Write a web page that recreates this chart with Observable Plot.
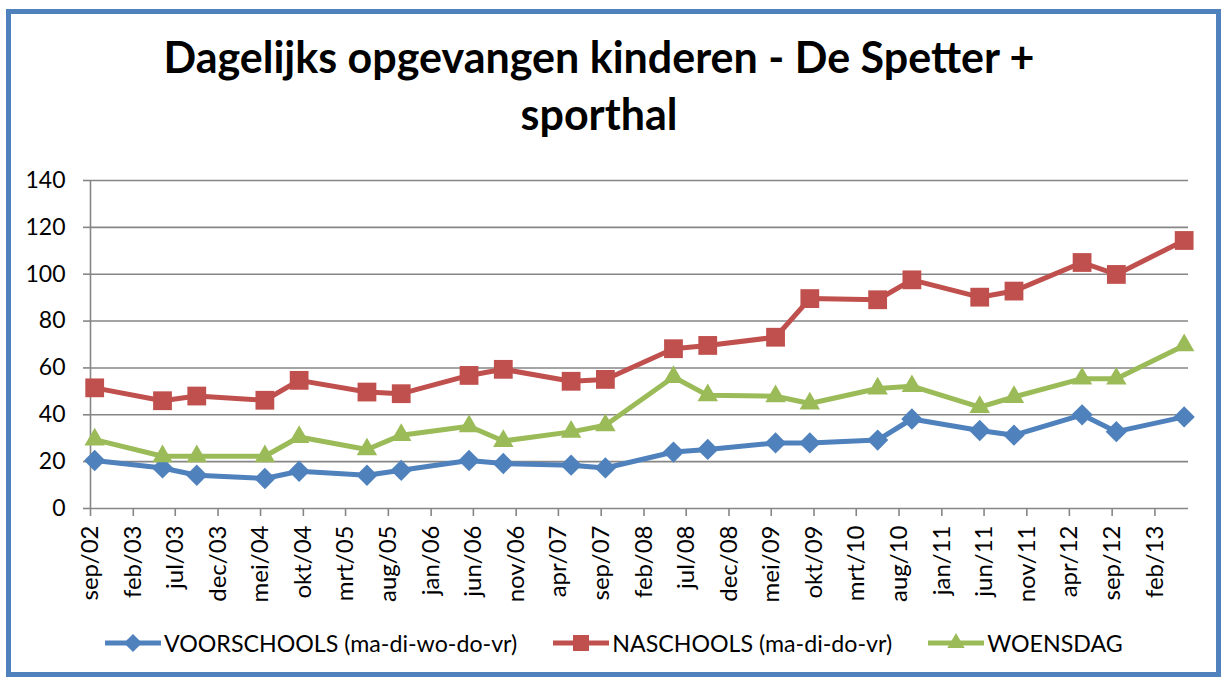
<!DOCTYPE html>
<html>
<head>
<meta charset="utf-8">
<script src="https://cdn.jsdelivr.net/npm/d3@7"></script>
<script src="https://cdn.jsdelivr.net/npm/@observablehq/plot@0.6"></script>
<style>
  html, body { margin: 0; padding: 0; background: #fff; }
  #wrap { position: relative; width: 1224px; height: 680px; overflow: hidden; background: #fff; font-family: Lato, "Open Sans", sans-serif; color: #000; }
  #frame { position: absolute; left: 6px; top: 9px; width: 1215px; height: 668px; box-sizing: border-box; border: 5px solid #4F81BD; pointer-events: none; }
  #title { position: absolute; left: 0; width: 1198px; top: 28px; text-align: center; font-weight: bold; font-size: 43px; line-height: 57px; }
  #chart { position: absolute; left: 0; top: 150px; }
  #legend { position: absolute; left: 105px; top: 629px; display: flex; align-items: center; gap: 36px; font-size: 23.2px; white-space: nowrap; }
  .item { display: flex; align-items: center; gap: 3px; }
  .item svg { display: block; }
</style>
</head>
<body>
<div id="wrap">
  <div id="title">Dagelijks opgevangen kinderen - De Spetter +<br>sporthal</div>
  <div id="chart"></div>
  <div id="legend"></div>
  <div id="frame"></div>
</div>
<script>
// ---- data ----
const months = ["2002-09","2003-05","2003-09","2004-05","2004-09","2005-05","2005-09","2006-05","2006-09","2007-05","2007-09",
                "2008-05","2008-09","2009-05","2009-09","2010-05","2010-09","2011-05","2011-09","2012-05","2012-09","2013-05"];
const voorschools = [20.5, 17.3, 14.2, 12.8, 15.9, 14.2, 16.3, 20.5, 19.2, 18.5, 17.3, 24.1, 25.2, 28, 28, 29.2, 38.2, 33.3, 31.3, 40, 32.8, 39.1];
const naschools   = [51.5, 46, 48, 46.2, 54.7, 49.7, 49, 56.8, 59.4, 54.3, 55.1, 68.2, 69.6, 73.1, 89.6, 89.1, 97.6, 90.2, 92.8, 105, 99.9, 114.4];
const woensdag    = [29.4, 22.3, 22.3, 22.3, 30.5, 25.2, 31.3, 35.1, 28.8, 32.7, 35.5, 56.1, 48.3, 47.9, 44.8, 51.2, 52.2, 43.3, 47.6, 55.4, 55.4, 69.6];
const seriesNames = ["VOORSCHOOLS (ma-di-wo-do-vr)", "NASCHOOLS (ma-di-do-vr)", "WOENSDAG"];
const seriesColors = ["#4F81BD", "#C0504D", "#9BBB59"];
const seriesSymbols = ["diamond2", "square", "triangle"];
const yTicks = [0, 20, 40, 60, 80, 100, 120, 140];
const xTickLabels = ["sep/02","feb/03","jul/03","dec/03","mei/04","okt/04","mrt/05","aug/05","jan/06","jun/06","nov/06","apr/07","sep/07",
                     "feb/08","jul/08","dec/08","mei/09","okt/09","mrt/10","aug/10","jan/11","jun/11","nov/11","apr/12","sep/12","feb/13"];
const monthNames = ["jan","feb","mrt","apr","mei","jun","jul","aug","sep","okt","nov","dec"];

// ---- derived ----
const parseLabel = s => { const [m, y] = s.split("/"); return new Date(Date.UTC(2000 + +y, monthNames.indexOf(m), 1)); };
const tickDates = xTickLabels.map(parseLabel);
const labelOf = new Map(tickDates.map((d, i) => [+d, xTickLabels[i]]));
// Excel month base unit: each point sits in the middle of its month slot
const monthMid = s => { const [y, m] = s.split("-").map(Number); return new Date((Date.UTC(y, m - 1, 1) + Date.UTC(y, m, 1)) / 2); };
const lastMonth = months[months.length - 1].split("-").map(Number);
const xDomain = [tickDates[0], new Date(Date.UTC(lastMonth[0], lastMonth[1], 1))];

const valueSets = [voorschools, naschools, woensdag];
const rows = [];
valueSets.forEach((vals, si) => vals.forEach((v, i) => rows.push({ series: seriesNames[si], date: monthMid(months[i]), value: v })));

const symbolR = { diamond2: 9.6, square: 10.6, triangle: 7.6 };
const grid = "#868686";

const marks = [
  Plot.gridY(yTicks, { stroke: grid, strokeOpacity: 1, strokeWidth: 1.6 }),
  Plot.ruleX([xDomain[0]], { stroke: grid, strokeWidth: 1.6 }),
  Plot.axisY(yTicks, { tickSize: 7, tickPadding: 18, stroke: grid, strokeWidth: 1.6, fill: "#000", fontSize: 23, label: null }),
  Plot.axisX(tickDates, { tickSize: 8, tickPadding: 9, tickRotate: -90, stroke: grid, strokeWidth: 1.6, fill: "#000", fontSize: 24,
    tickFormat: d => labelOf.get(+d), label: null }),
];
seriesNames.forEach((name, si) => {
  const data = rows.filter(r => r.series === name);
  marks.push(Plot.line(data, { x: "date", y: "value", stroke: seriesColors[si], strokeWidth: 5, strokeLinejoin: "round" }));
});
seriesNames.forEach((name, si) => {
  const data = rows.filter(r => r.series === name);
  marks.push(Plot.dot(data, { x: "date", y: "value", symbol: () => seriesSymbols[si], fill: seriesColors[si], stroke: "none",
    r: symbolR[seriesSymbols[si]] }));
});

const chart = Plot.plot({
  width: 1224,
  height: 468,
  marginLeft: 90,
  marginRight: 36,
  marginTop: 30,
  marginBottom: 110,
  style: { fontFamily: "Lato, 'Open Sans', sans-serif", fontSize: "23px", background: "transparent", color: "#000" },
  x: { type: "utc", domain: xDomain },
  y: { domain: [0, 140] },
  symbol: { type: "identity" },
  marks
});
document.getElementById("chart").appendChild(chart);

// ---- legend ----
const legend = document.getElementById("legend");
seriesNames.forEach((name, si) => {
  const item = document.createElement("div");
  item.className = "item";
  const sw = d3.create("svg").attr("width", 56).attr("height", 24);
  sw.append("line").attr("x1", 0).attr("x2", 56).attr("y1", 12).attr("y2", 12)
    .attr("stroke", seriesColors[si]).attr("stroke-width", 5);
  const symMap = { diamond2: d3.symbolDiamond2, square: d3.symbolSquare, triangle: d3.symbolTriangle };
  const r = symbolR[seriesSymbols[si]] * 0.85;
  sw.append("path").attr("transform", "translate(28,12)")
    .attr("d", d3.symbol(symMap[seriesSymbols[si]], Math.PI * r * r)())
    .attr("fill", seriesColors[si]);
  item.appendChild(sw.node());
  const t = document.createElement("span");
  t.textContent = name;
  item.appendChild(t);
  legend.appendChild(item);
});
</script>
</body>
</html>
